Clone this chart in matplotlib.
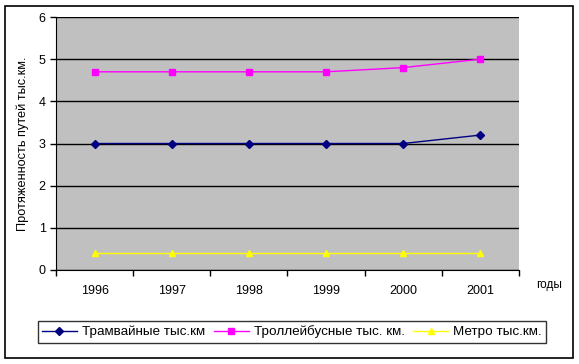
import matplotlib
matplotlib.use('Agg')
import matplotlib.pyplot as plt
import matplotlib.patches as patches

years = ['1996', '1997', '1998', '1999', '2000', '2001']
tram = [3.0, 3.0, 3.0, 3.0, 3.0, 3.2]
trolley = [4.7, 4.7, 4.7, 4.7, 4.8, 5.0]
metro = [0.4, 0.4, 0.4, 0.4, 0.4, 0.4]
labels = ['Трамвайные тыс.км', 'Троллейбусные тыс. км.', 'Метро тыс.км.']

plt.rcParams['font.family'] = ['Liberation Sans', 'DejaVu Sans']

W, H = 579, 364
fig = plt.figure(figsize=(W / 100, H / 100), dpi=100)
ax = fig.add_axes([56 / W, 1 - 270 / H, (519 - 56) / W, (270 - 17) / H])
ax.set_facecolor('#c0c0c0')

# outer frame of the chart
fig.patches.append(patches.Rectangle((5 / W, 6 / H), 568 / W, 352 / H, transform=fig.transFigure,
                                     fill=False, edgecolor='black', linewidth=1.2))

x = list(range(len(years)))
ax.plot(x, tram, color='#000080', marker='D', markersize=4, linewidth=1, label=labels[0])
ax.plot(x, trolley, color='#ff00ff', marker='s', markersize=5, linewidth=1, label=labels[1])
ax.plot(x, metro, color='#ffff00', marker='^', markersize=5, linewidth=1, label=labels[2])

ax.set_xlim(-0.5, len(years) - 0.5)
ax.set_ylim(0, 6)
ax.set_yticks(range(0, 7))
ax.yaxis.grid(True, color='black', linewidth=1)
ax.set_axisbelow(True)

ax.set_xticks([i - 0.5 for i in range(len(years) + 1)])
ax.set_xticklabels([])
ax.set_xticks(x, minor=True)
ax.set_xticklabels(years, minor=True, fontsize=9)
ax.tick_params(axis='x', which='minor', length=0, pad=11)
ax.tick_params(axis='x', which='major', length=4, direction='out', width=1)
ax.tick_params(axis='y', length=4, direction='out', labelsize=9, width=1)
for s in ['top', 'right']:
    ax.spines[s].set_visible(False)
ax.spines['left'].set_color('black')
ax.spines['bottom'].set_color('black')

ax.set_ylabel('Протяженность путей тыс.км.', fontsize=9.2, labelpad=7)
fig.text(536 / W, 1 - 285 / H, 'годы', fontsize=8.5, va='center')

leg = fig.legend(loc='center', bbox_to_anchor=(292 / W, 1 - 332 / H), ncol=3, fontsize=9.7,
                 frameon=True, fancybox=False, edgecolor='black', handlelength=2.6,
                 columnspacing=0.6, handletextpad=0.4, borderpad=0.3, borderaxespad=0)
leg.get_frame().set_linewidth(1)

fig.savefig('out.png', dpi=100)
